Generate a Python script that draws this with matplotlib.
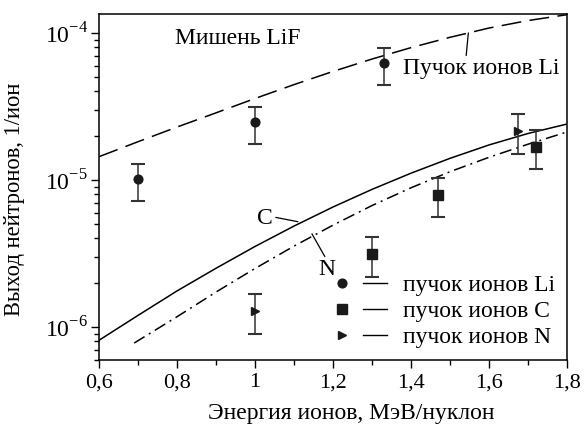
import numpy as np
import matplotlib
matplotlib.use('Agg')
import matplotlib.pyplot as plt
from matplotlib.lines import Line2D
from matplotlib.legend_handler import HandlerTuple
from matplotlib.ticker import LogLocator, FixedLocator, FixedFormatter, NullFormatter

plt.rcParams['font.family'] = 'Liberation Serif'
plt.rcParams['mathtext.fontset'] = 'custom'
plt.rcParams['mathtext.rm'] = 'Liberation Serif'
plt.rcParams['font.size'] = 17

# measured points (energy, MeV/nucleon ; yield, 1/ion)
li_x = [0.70, 1.00, 1.33]
li_y = [1.02e-5, 2.48e-5, 6.25e-5]
li_lo = [7.2e-6, 1.76e-5, 4.43e-5]
li_hi = [1.29e-5, 3.14e-5, 7.9e-5]

c_x = [1.30, 1.47, 1.72]
c_y = [3.14e-6, 7.9e-6, 1.67e-5]
c_lo = [2.2e-6, 5.6e-6, 1.18e-5]
c_hi = [4.1e-6, 1.03e-5, 2.19e-5]

n_x = [1.00, 1.675]
n_y = [1.29e-6, 2.15e-5]
n_lo = [8.95e-7, 1.51e-5]
n_hi = [1.67e-6, 2.81e-5]

# calculated curves
curve_x = [0.6, 0.7, 0.8, 0.9, 1.0, 1.1, 1.2, 1.3, 1.4, 1.5, 1.6, 1.7, 1.8]
li_calc = [1.44e-5, 1.82e-5, 2.29e-5, 2.86e-5, 3.58e-5, 4.45e-5, 5.47e-5,
           6.64e-5, 7.94e-5, 9.33e-5, 1.079e-4, 1.213e-4, 1.33e-4]
c_calc = [8.13e-7, 1.20e-6, 1.76e-6, 2.51e-6, 3.53e-6, 4.86e-6, 6.55e-6,
          8.63e-6, 1.112e-5, 1.403e-5, 1.73e-5, 2.07e-5, 2.40e-5]
n_curve_x = [0.69, 0.8, 0.9, 1.0, 1.1, 1.2, 1.3, 1.4, 1.5, 1.6, 1.7, 1.8]
n_calc = [7.78e-7, 1.175e-6, 1.73e-6, 2.50e-6, 3.55e-6, 4.93e-6, 6.70e-6,
          8.85e-6, 1.138e-5, 1.426e-5, 1.75e-5, 2.12e-5]

xticks = [0.6, 0.8, 1.0, 1.2, 1.4, 1.6, 1.8]
xtick_labels = ['0,6', '0,8', '1', '1,2', '1,4', '1,6', '1,8']
legend_labels = ['пучок ионов Li', 'пучок ионов C', 'пучок ионов N']

fig = plt.figure(figsize=(5.86, 4.32), dpi=100)
ax = fig.add_axes([0.169, 0.1667, 0.7986, 0.801])

lw = 1.1
ax.plot(curve_x, li_calc, color='k', lw=lw, ls=(0, (13, 5.5)))
ax.plot(curve_x, c_calc, color='k', lw=lw, ls='-')
ax.plot(n_curve_x, n_calc, color='k', lw=lw, ls=(0, (8, 3.3, 1.3, 3.3)))

def err(y, lo, hi):
    y = np.array(y)
    return [y - np.array(lo), np.array(hi) - y]

ekw = dict(ls='none', color='#1a1a1a', ecolor='#333333', elinewidth=1.1,
           capsize=4.7, capthick=1.5)
ax.errorbar(li_x, li_y, yerr=err(li_y, li_lo, li_hi), marker='o', ms=6.3, **ekw)
ax.errorbar(c_x, c_y, yerr=err(c_y, c_lo, c_hi), marker='s', ms=6.8, **ekw)
ax.errorbar(n_x, n_y, yerr=err(n_y, n_lo, n_hi), marker='>', ms=6.3, **ekw)

ax.set_yscale('log')
ax.set_xlim(0.6, 1.8)
ax.set_ylim(5.97e-7, 1.345e-4)

ax.xaxis.set_major_locator(FixedLocator(xticks))
ax.xaxis.set_major_formatter(FixedFormatter(xtick_labels))
ax.xaxis.set_minor_locator(FixedLocator([0.7, 0.9, 1.1, 1.3, 1.5, 1.7]))
ax.yaxis.set_major_locator(FixedLocator([1e-6, 1e-5, 1e-4]))
ax.yaxis.set_major_formatter(FixedFormatter(['$10^{-6}$', '$10^{-5}$', '$10^{-4}$']))
ax.yaxis.set_minor_locator(LogLocator(base=10, subs=np.arange(2, 10), numticks=20))
ax.yaxis.set_minor_formatter(NullFormatter())

ax.tick_params(which='both', direction='out', top=False, right=False, width=1.0)
ax.tick_params(axis='x', which='major', length=6, labelsize=16)
ax.tick_params(axis='y', which='major', length=6, labelsize=17, pad=2)
ax.tick_params(which='minor', length=3.5)
for s in ax.spines.values():
    s.set_linewidth(1.1)

ax.set_xlabel('Энергия ионов, МэВ/нуклон', fontsize=17)
ax.set_ylabel('Выход нейтронов, 1/ион', fontsize=16.3)
ax.xaxis.set_label_coords(0.54, -0.125)
ax.yaxis.set_label_coords(-0.158, 0.464)

ax.text(0.795, 9.1e-5, 'Мишень LiF', fontsize=17, va='center', ha='left')
ax.annotate('Пучок ионов Li', xy=(1.547, 1.0e-4), xytext=(1.38, 5.7e-5),
            fontsize=17, va='center', ha='left',
            arrowprops=dict(arrowstyle='-', color='k', lw=0.9,
                            shrinkA=0, shrinkB=0, relpos=(0.4, 0.95)))
ax.annotate('C', xy=(1.11, 5.2e-6), xytext=(1.026, 5.43e-6),
            fontsize=17, va='center', ha='center',
            arrowprops=dict(arrowstyle='-', color='k', lw=0.9,
                            shrinkA=0, shrinkB=0, relpos=(1.0, 0.6)))
ax.annotate('N', xy=(1.146, 4.3e-6), xytext=(1.183, 2.45e-6),
            fontsize=17, va='center', ha='center',
            arrowprops=dict(arrowstyle='-', color='k', lw=0.9,
                            shrinkA=0, shrinkB=0, relpos=(0.5, 1.0)))

markers = ['o', 's', '>']
msizes = [6.3, 6.8, 6.3]
handles = []
for m, s in zip(markers, msizes):
    h1 = Line2D([], [], marker=m, ms=s, ls='none', color='#1a1a1a')
    h2 = Line2D([], [], ls='-', lw=1.0, color='k')
    handles.append((h1, h2))
ax.legend(handles, legend_labels, handler_map={tuple: HandlerTuple(ndivide=None, pad=0.38)},
          loc='upper left', bbox_to_anchor=(0.494, 0.247), frameon=False,
          borderpad=0, borderaxespad=0, handlelength=2.42, handletextpad=0.68,
          labelspacing=0.19, fontsize=17)

fig.savefig('out.png', dpi=100)
